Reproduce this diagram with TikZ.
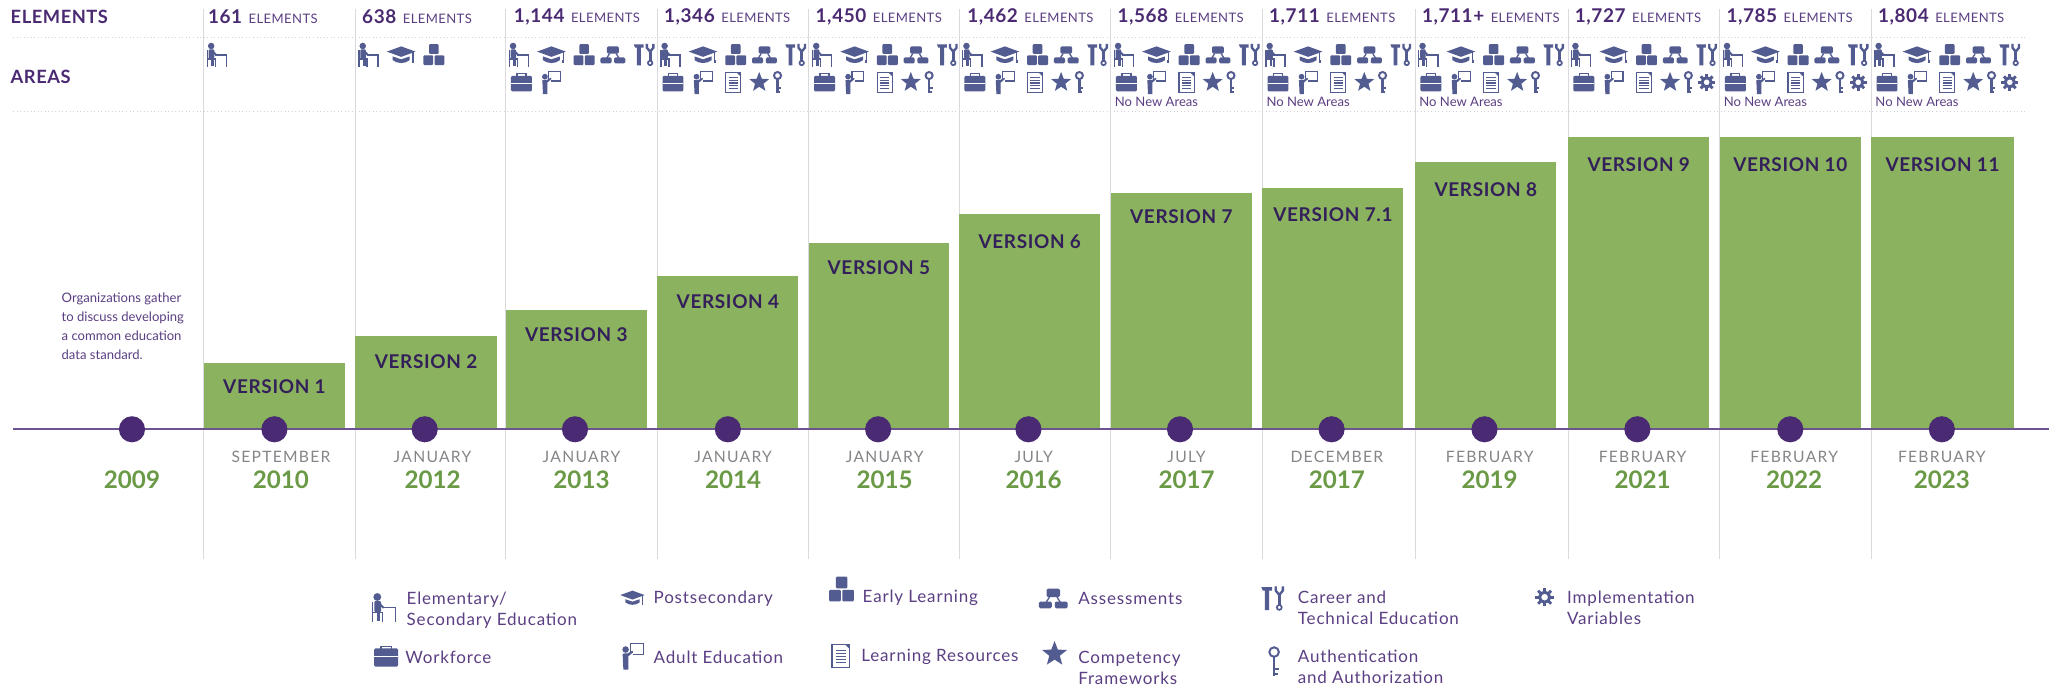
\documentclass[tikz,border=0pt]{standalone}
\usepackage{fontspec}
\setmainfont{Lato}
\newcommand{\fsz}[1]{\fontsize{#1pt}{\the\dimexpr1.24\dimexpr#1pt\relax\relax}\selectfont}
\definecolor{ipurple}{HTML}{4A2A72}
\definecolor{idark}{HTML}{33205A}
\definecolor{itext}{HTML}{5B3F83}
\definecolor{iicon}{HTML}{535C90}
\definecolor{ibar}{HTML}{8BB25E}
\definecolor{iyear}{HTML}{6A9A45}
\definecolor{igrey}{HTML}{85858A}
\definecolor{irule}{HTML}{DADADE}
\definecolor{idot}{HTML}{D2D2D6}
\definecolor{itime}{HTML}{6D5390}
\tikzset{
  ics/.style={draw=iicon,fill=none,line width=#1},
  head/.style={font=\bfseries\fsz{14}\addfontfeature{LetterSpace=3},text=ipurple,anchor=west,inner sep=0pt},
  elem/.style={text=ipurple,anchor=west,inner sep=0pt},
  versionlabel/.style={font=\bfseries\fsz{14.5}\addfontfeature{LetterSpace=3.5},text=idark,inner sep=0pt},
  monthlabel/.style={font=\fsz{12}\addfontfeature{LetterSpace=8},text=igrey,inner sep=0pt},
  yearlabel/.style={font=\bfseries\fsz{18.5},text=iyear,inner sep=0pt},
  legendlabel/.style={font=\fsz{13}\addfontfeature{LetterSpace=5},text=itext,anchor=west,inner sep=0pt,align=left},
  notelabel/.style={font=\fontsize{10pt}{14.4pt}\selectfont,text=itext,anchor=north west,inner sep=0pt,align=left},
  nonew/.style={font=\fsz{10},text=itext,anchor=west,inner sep=0pt},
  tdot/.style={circle,fill=ipurple,minimum size=20pt,inner sep=0pt},
  iperson/.pic={
    \fill[iicon] (-4.4,-6.8) circle (2.5);
    \fill[iicon,rounded corners=0.8] (-6.3,-4.2) rectangle (-2,2.8);
    \draw[ics=1.1] (-7.3,-3.5) -- (-7.3,9);
    \draw[ics=1.1] (-7.3,3.2) -- (-1.2,3.2) -- (-1.2,9);
    \draw[ics=2.2] (-3.4,2) -- (-3.4,8.8);
    \draw[ics=1.4] (-3,-2.5) -- (-0.3,0.2);
    \draw[ics=1.1] (-1.5,0) -- (7.3,0) -- (7.3,9);
  },
  icap/.pic={
    \fill[iicon] (-11,-2.5) -- (0,-6.5) -- (11,-2.5) -- (0,1.5) -- cycle;
    \fill[iicon] (-6.5,1.2) -- (0,3.4) -- (6.5,1.2) -- (6.5,4) .. controls (3,7) and (-3,7) .. (-6.5,4) -- cycle;
    \draw[ics=1] (9,-2) -- (9,5);
    \fill[iicon] (8.2,4) rectangle (9.8,6.5);
  },
  iblocks/.pic={
    \fill[iicon,rounded corners=0.8] (-3.7,-8.2) rectangle (3.7,-0.7);
    \fill[iicon,rounded corners=0.8] (-8,0.3) rectangle (-0.5,7.8);
    \fill[iicon,rounded corners=0.8] (0.5,0.3) rectangle (8,7.8);
  },
  iorg/.pic={
    \fill[iicon,rounded corners=1] (-4.5,-6.5) rectangle (4.5,-1);
    \draw[ics=1] (-5,3) -- (-2.5,-1) (5,3) -- (2.5,-1);
    \fill[iicon,rounded corners=1] (-9.5,2) rectangle (-1,6.5);
    \fill[iicon,rounded corners=1] (1,2) rectangle (9.5,6.5);
  },
  itools/.pic={
    \fill[iicon] (-8,-8) -- (-0.5,-8) -- (-0.5,-5.5) -- (-2.6,-5.5) -- (-2.6,8) -- (-5.6,8) -- (-5.6,-5.5) -- (-7,-5.5) -- cycle;
    \draw[ics=1.8] (2,-8.5) -- (2,-5.5) -- (4.5,-2.5) -- (7,-5.5) -- (7,-8.5);
    \draw[ics=2.2] (4.5,-3) -- (4.5,4.5);
    \draw[ics=1.3] (4.5,6.2) circle (1.7);
  },
  ibrief/.pic={
    \draw[ics=1] (-3.4,-4.5) -- (-3.4,-6.5) -- (3.4,-6.5) -- (3.4,-4.5);
    \fill[iicon,rounded corners=1] (-8,-5) rectangle (8,7);
    \draw[white,line width=0.4] (-8,0.5) -- (8,0.5);
  },
  iteach/.pic={
    \draw[ics=0.8] (-2,-2) -- (-2,-8.5) -- (7,-8.5) -- (7,-1) -- (0,-1);
    \fill[iicon] (-5,-4.3) circle (2.2);
    \fill[iicon] (-7,-1.6) -- (-3.5,-1.8) -- (-0.5,-3.5) -- (0,-2.5) -- (-3.2,0.2) -- (-3.2,9) -- (-6.5,9) -- cycle;
  },
  idoc/.pic={
    \draw[ics=0.9] (-5.8,-7.5) rectangle (5.8,7.5);
    \fill[iicon] (2.8,-7.5) -- (5.8,-7.5) -- (5.8,-4.5) -- cycle;
    \foreach \yy in {-3.5,-1.5,0.5,2.5,4.5} {\draw[ics=0.9] (-3.5,\yy) -- (3.5,\yy);}
  },
  istar/.pic={
    \fill[iicon] (90:-8) -- (126:-3.4) -- (162:-8) -- (198:-3.4) -- (234:-8) -- (270:-3.4) -- (306:-8) -- (342:-3.4) -- (18:-8) -- (54:-3.4) -- cycle;
  },
  ikey/.pic={
    \draw[ics=1.5] (0,-5.2) circle (2.7);
    \draw[ics=1.9] (0,-2.6) -- (0,8.2);
    \draw[ics=1.4] (0,4.6) -- (2.6,4.6) (0,7.4) -- (2,7.4);
  },
  igear/.pic={
    \draw[ics=2.3] (0,0) circle (3.5);
    \foreach \aa in {0,45,...,315} {\draw[ics=2.2] (\aa:4) -- (\aa:6.4);}
  },
}
% icons of one column: left edge, level
\newcommand{\iconcol}[2]{%
  \path (#1+10,42) pic {iperson};
  \ifnum#2>1
    \path (#1+35,42) pic {icap};
    \path (#1+60,42) pic {iblocks};
  \fi
  \ifnum#2>2
    \path (#1+82,42) pic {iorg};
    \path (#1+106,42) pic {itools};
    \path (#1+12,63) pic {ibrief};
    \path (#1+35,63) pic {iteach};
  \fi
  \ifnum#2>3
    \path (#1+58,63) pic {idoc};
    \path (#1+78,63) pic {istar};
    \path (#1+92,63) pic {ikey};
  \fi
  \ifnum#2>4
    \path (#1+106,63) pic {igear};
  \fi
}
\begin{document}
\begin{tikzpicture}[x=1pt,y=-1pt]
\useasboundingbox[fill=white] (0,0) rectangle (1568,525);

% rules
\foreach \lx in {156,272,387,503,619,734,850,966,1083,1200,1316,1432}
  \draw[irule,line width=0.8] (\lx,7) -- (\lx,428);
\draw[idot,line width=0.7,dotted] (10,28.5) -- (1551,28.5);
\draw[idot,line width=0.7,dotted] (10,85.5) -- (1551,85.5);

% row titles
\node[head] (elemtitle) at (8,13) {ELEMENTS};
\node[head] (areatitle) at (8,58.5) {AREAS};

% columns
\foreach \i/\xl/\xr/\yt/\yv/\vv/\nn/\nx/\mo/\yr/\xc/\lev/\nna in {
  1/156/264/278/296/1/161/159/SEPTEMBER/2010/215/1/0,
  2/272/380/257/276.5/2/638/277/JANUARY/2012/331/2/0,
  3/387/495/237/256/3/{1,144}/393/JANUARY/2013/445/3/0,
  4/503/611/211/231/4/{1,346}/508/JANUARY/2014/561/4/0,
  5/619/726/186/205/5/{1,450}/624/JANUARY/2015/677/4/0,
  6/734/842/164/185/6/{1,462}/740/JULY/2016/791/4/0,
  7/850/958/148/166/7/{1,568}/855/JULY/2017/908/4/1,
  8/966/1074/144/164/7.1/{1,711}/971/DECEMBER/2017/1023/4/1,
  9/1083/1191/124/145/8/{1,711+}/1088/FEBRUARY/2019/1140/4/1,
  10/1200/1308/105/126/9/{1,727}/1205/FEBRUARY/2021/1257/5/0,
  11/1316/1424/105/126/10/{1,785}/1321/FEBRUARY/2022/1373/5/1,
  12/1432/1541/105/126/11/{1,804}/1437/FEBRUARY/2023/1486/5/1}
{
  \fill[ibar] (\xl,\yt) rectangle (\xr,328);
  \node[versionlabel] (ver\i) at ({(\xl+\xr)/2},\yv) {VERSION \vv};
  \node[elem] (num\i) at (\nx,13) {{\bfseries\fsz{14.5}\addfontfeature{LetterSpace=3}\nn}\hspace{5pt}{\fsz{10}\addfontfeature{LetterSpace=3}\color{itext}ELEMENTS}};
  \iconcol{\xl}{\lev}
  \ifnum\nna=1
    \node[nonew] (nonew\i) at (\xl+3,78) {No New Areas};
  \fi
  \node[monthlabel] (mon\i) at (\xc,350) {\mo};
  \node[yearlabel] (year\i) at (\xc,367.5) {\yr};
}

% timeline
\coordinate (tlstart) at (10,328.5);
\coordinate (tlend) at (1568,328.5);
\draw[itime,line width=1.3] (tlstart) -- (tlend);
\foreach \dx [count=\k] in {101,210,325,440,557,672,787,903,1019,1136,1253,1370,1486}
  \node[tdot] (dot\k) at (\dx,328.5) {};

\node[yearlabel] (year0) at (101,367.5) {2009};
\node[notelabel] (note) at (47,224)
  {Organizations gather\\to discuss developing\\a common education\\data standard.};

% legend
\path (294,465) pic[scale=1.2] {iperson};
\node[legendlabel] (l1) at (311,467) {Elementary/\\Secondary Education};
\path (484,457.5) pic[scale=0.85] {icap};
\node[legendlabel] (l2) at (500,458) {Postsecondary};
\path (644,451) pic[scale=1.18] {iblocks};
\node[legendlabel] (l3) at (660,457.5) {Early Learning};
\path (806,458) pic[scale=1.15] {iorg};
\node[legendlabel] (l4) at (825,458) {Assessments};
\path (974,458) pic[scale=1.1] {itools};
\node[legendlabel] (l5) at (993,465) {Career and\\Technical Education};
\path (1182,457) pic[scale=1.1] {igear};
\node[legendlabel] (l6) at (1199,465) {Implementation\\Variables};
\path (295.5,502) pic[scale=1.15] {ibrief};
\node[legendlabel] (l7) at (310,503) {Workforce};
\path (484.5,502) pic[scale=1.15] {iteach};
\node[legendlabel] (l8) at (500,503) {Adult Education};
\path (643.5,502) pic[scale=1.17] {idoc};
\node[legendlabel] (l9) at (659,503) {Learning Resources};
\path (807,500.5) pic[scale=1.25] {istar};
\node[legendlabel] (l10) at (825,511) {Competency\\Frameworks};
\path (975,506) pic[scale=1.35] {ikey};
\node[legendlabel] (l11) at (993,510.5) {Authentication\\and Authorization};
\end{tikzpicture}
\end{document}
